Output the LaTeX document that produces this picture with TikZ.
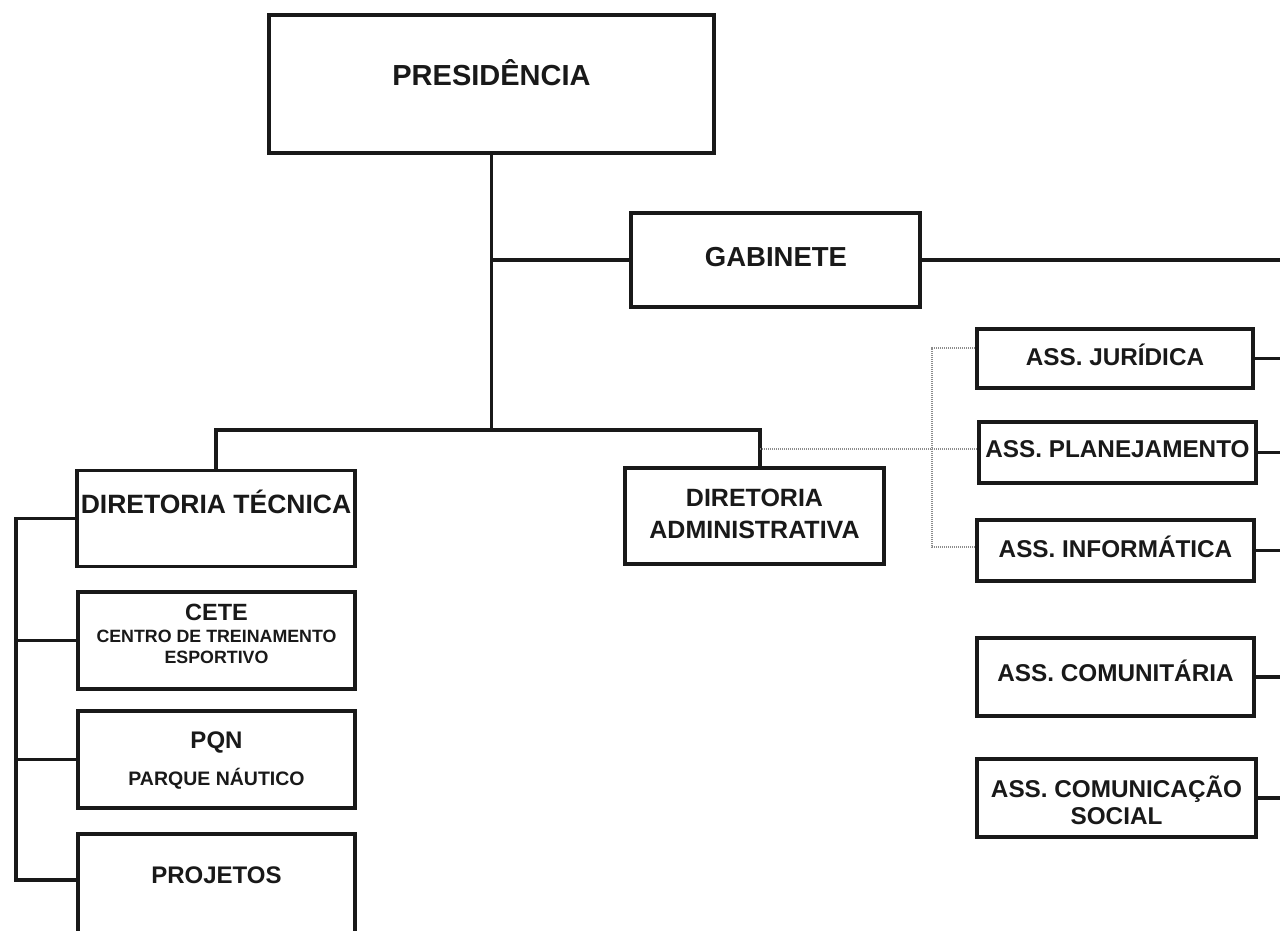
\documentclass[tikz,border=0pt]{standalone}
\usepackage{fontspec}
\setmainfont{Liberation Sans}
\begin{document}
\begin{tikzpicture}[x=1pt,y=-1pt,
  box/.style={draw=black!90, line width=3.8pt, inner sep=0pt, fill=white},
  conn/.style={draw=black!90, line width=3.4pt},
  dots/.style={draw=black!45, line width=1.4pt, dash pattern=on 1.2pt off 0.8pt},
  lbl/.style={inner sep=0pt, align=center, text=black!90, font=\bfseries}]
\useasboundingbox (0,0) rectangle (1280,930);
\clip (0,0) rectangle (1280,930);
\fill[white] (0,0) rectangle (1280,930);
% coordinates
\coordinate (R) at (1280,0);
\coordinate (jB) at (491.5,430);
\coordinate (jG) at (491.5,260);
\coordinate (aT) at (760,430);
\coordinate (aD) at (760,449);
\coordinate (d1) at (932,348);
\coordinate (d2) at (932,547);
\coordinate (Ltop) at (16,518.5);
\coordinate (Lbot) at (16,880);
\coordinate (pj) at (78,880);
% boxes
\node[box, minimum width=445, minimum height=138] (pres) at (491.5,84) {};
\node[lbl, font=\bfseries\fontsize{29}{33}\selectfont] (presT) at (491.5,73) {PRESIDÊNCIA};
\node[box, minimum width=289, minimum height=94] (gab) at (775.5,260) {};
\node[lbl, font=\bfseries\fontsize{27.5}{31}\selectfont] (gabT) at (776,257) {GABINETE};
\node[box, minimum width=278, minimum height=96] (dirT) at (216,518.5) {};
\node[lbl, font=\bfseries\fontsize{26.5}{30}\selectfont] (dirTT) at (216,502) {DIRETORIA TÉCNICA};
\node[box, minimum width=259, minimum height=96] (dirA) at (754.5,516) {};
\node[lbl, font=\bfseries\fontsize{25}{32}\selectfont] (dirAT) at (754.5,514) {DIRETORIA\\ADMINISTRATIVA};
\node[box, minimum width=277, minimum height=97] (cete) at (216.5,640.5) {};
\node[lbl, font=\bfseries\fontsize{23.5}{26}\selectfont] (ceteT) at (216.5,612) {CETE};
\node[lbl, font=\bfseries\fontsize{17.8}{21}\selectfont] (ceteS) at (216.5,647) {CENTRO DE TREINAMENTO\\ESPORTIVO};
\node[box, minimum width=277, minimum height=97] (pqn) at (216.5,759.5) {};
\node[lbl, font=\bfseries\fontsize{24}{27}\selectfont] (pqnT) at (216.5,742) {PQN};
\node[lbl, font=\bfseries\fontsize{19.5}{22}\selectfont] (pqnS) at (216.5,779) {PARQUE NÁUTICO};
\node[box, minimum width=277, minimum height=140] (proj) at (216.5,904) {};
\node[lbl, font=\bfseries\fontsize{24}{27}\selectfont] (projT) at (216.5,875) {PROJETOS};
\node[box, minimum width=276, minimum height=59] (jur) at (1115,358.5) {};
\node[lbl, font=\bfseries\fontsize{24.3}{27}\selectfont] (jurT) at (1115,355) {ASS. JURÍDICA};
\node[box, minimum width=277, minimum height=61] (plan) at (1117.5,452.5) {};
\node[lbl, font=\bfseries\fontsize{24.3}{27}\selectfont] (planT) at (1117.5,449) {ASS. PLANEJAMENTO};
\node[box, minimum width=277, minimum height=61] (inf) at (1115.5,550.5) {};
\node[lbl, font=\bfseries\fontsize{24.3}{27}\selectfont] (infT) at (1115.5,547) {ASS. INFORMÁTICA};
\node[box, minimum width=277, minimum height=78] (com) at (1115.5,677) {};
\node[lbl, font=\bfseries\fontsize{24.3}{27}\selectfont] (comT) at (1115.5,671) {ASS. COMUNITÁRIA};
\node[box, minimum width=279, minimum height=78] (soc) at (1116.5,798) {};
\node[lbl, font=\bfseries\fontsize{24.3}{27}\selectfont] (socT) at (1116.5,800) {ASS. COMUNICAÇÃO\\SOCIAL};
% connectors
\draw[conn] (pres.south) -- (jB);
\draw[conn] (jG) -- (gab.west);
\draw[conn] (gab.east) -- (gab.east -| R);
\draw[conn] (dirT.north) -- (dirT.north |- jB) -- (aT) -- (aT |- dirA.north);
\draw[dots] (aD) -- (aD -| plan.west);
\draw[dots] (d1 -| jur.west) -- (d1) -- (d2) -- (d2 -| inf.west);
\foreach \n in {jur,plan,inf,com,soc}{
  \draw[conn] (\n.east) -- (\n.east -| R);
}
\draw[conn, line join=miter] (dirT.west) -- (Ltop) -- (Lbot) -- (pj);
\draw[conn] (cete.west -| Ltop) -- (cete.west);
\draw[conn] (pqn.west -| Ltop) -- (pqn.west);
\end{tikzpicture}
\end{document}
